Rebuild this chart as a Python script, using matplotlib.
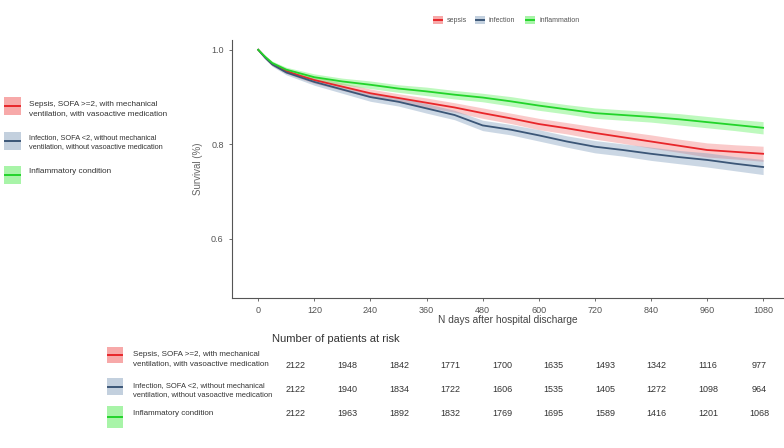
import matplotlib
matplotlib.use("Agg")
import matplotlib.pyplot as plt
from matplotlib.patches import Rectangle
from matplotlib.lines import Line2D

plt.rcParams["font.family"] = ["Liberation Sans", "DejaVu Sans"]

# survival curves
days = [0, 15, 30, 60, 90, 120, 180, 240, 300, 360, 420, 480, 540, 600,
        660, 720, 780, 840, 900, 960, 1020, 1080]
sepsis = [1.0, 0.984, 0.970, 0.955, 0.945, 0.936, 0.922, 0.908, 0.898, 0.888,
          0.878, 0.866, 0.855, 0.843, 0.834, 0.824, 0.815, 0.806, 0.797,
          0.788, 0.784, 0.780]
infection = [1.0, 0.983, 0.969, 0.952, 0.942, 0.932, 0.916, 0.900, 0.890,
             0.876, 0.862, 0.840, 0.831, 0.819, 0.806, 0.795, 0.788, 0.780,
             0.773, 0.767, 0.759, 0.752]
inflammation = [1.0, 0.985, 0.972, 0.958, 0.950, 0.942, 0.933, 0.926, 0.918,
                0.912, 0.905, 0.899, 0.891, 0.882, 0.874, 0.866, 0.862,
                0.858, 0.853, 0.847, 0.841, 0.835]
# half width of the confidence band
ci_sepsis = [0, 0.003, 0.004, 0.005, 0.006, 0.007, 0.008, 0.009, 0.009, 0.010,
             0.010, 0.011, 0.011, 0.012, 0.012, 0.013, 0.013, 0.014, 0.014,
             0.015, 0.015, 0.016]
ci_infection = [0, 0.003, 0.004, 0.005, 0.006, 0.007, 0.008, 0.009, 0.009,
                0.010, 0.010, 0.011, 0.011, 0.012, 0.012, 0.013, 0.013, 0.014,
                0.014, 0.015, 0.015, 0.016]
ci_inflammation = [0, 0.003, 0.004, 0.005, 0.006, 0.007, 0.007, 0.008, 0.008,
                   0.009, 0.009, 0.009, 0.010, 0.010, 0.010, 0.011, 0.011,
                   0.011, 0.012, 0.012, 0.012, 0.013]

risk_sepsis = [2122, 1948, 1842, 1771, 1700, 1635, 1493, 1342, 1116, 977]
risk_infection = [2122, 1940, 1834, 1722, 1606, 1535, 1405, 1272, 1098, 964]
risk_inflammation = [2122, 1963, 1892, 1832, 1769, 1695, 1589, 1416, 1201, 1068]

short_names = ["sepsis", "infection", "inflammation"]
long_names = ["Sepsis, SOFA >=2, with mechanical\nventilation, with vasoactive medication",
              "Infection, SOFA <2, without mechanical\nventilation, without vasoactive medication",
              "Inflammatory condition"]

line_cols = ["#e8262a", "#3b5677", "#22d42a"]
band_cols = ["#f47c7c", "#7f9cbc", "#5ef05e"]
patch_cols = ["#f7a9a9", "#c3d0de", "#a8f4a8"]

fig = plt.figure(figsize=(7.84, 4.48), dpi=100)
ax = fig.add_axes([0.296, 0.335, 0.703, 0.576])

series = [(sepsis, ci_sepsis), (infection, ci_infection),
          (inflammation, ci_inflammation)]
for i, (s, ci) in enumerate(series):
    lo = [v - c for v, c in zip(s, ci)]
    hi = [v + c for v, c in zip(s, ci)]
    ax.fill_between(days, lo, hi, color=band_cols[i], alpha=0.4, lw=0)
for i, (s, ci) in enumerate(series):
    ax.plot(days, s, color=line_cols[i], lw=1.3)

ax.set_xlim(-56, 1123)
ax.set_ylim(0.475, 1.021)
ax.set_xticks(range(0, 1081, 120))
ax.set_yticks([0.6, 0.8, 1.0])
ax.set_yticklabels(["0.6", "0.8", "1.0"])
for side in ["top", "right"]:
    ax.spines[side].set_visible(False)
for side in ["left", "bottom"]:
    ax.spines[side].set_color("#555555")
    ax.spines[side].set_linewidth(0.8)
ax.tick_params(colors="#555555", labelsize=6.5, length=2.5, width=0.6)
ax.set_xlabel("N days after hospital discharge", fontsize=7.3,
              color="#444444", labelpad=0)
ax.set_ylabel("Survival (%)", fontsize=7, color="#666666", labelpad=6)


def key(x, y, w, h, i):
    fig.add_artist(Rectangle((x / 784, 1 - (y + h) / 448), w / 784, h / 448,
                             color=patch_cols[i], lw=0))
    fig.add_artist(Line2D([(x + 1) / 784, (x + w - 1) / 784],
                          [1 - (y + h / 2) / 448] * 2,
                          color=line_cols[i], lw=1.4))


# top legend
top_x = [433, 475, 525]
for i, name in enumerate(short_names):
    key(top_x[i], 16, 10, 8, i)
    fig.text((top_x[i] + 14) / 784, 1 - 20 / 448, name, fontsize=5,
             va="center", color="#555555")

# left legend
left_y = [97, 132, 166]
left_ty = [109, 142, 171]
for i, name in enumerate(long_names):
    key(4, left_y[i], 17, 18, i)
    fig.text(29 / 784, 1 - left_ty[i] / 448, name,
             fontsize=5.9 if i != 1 else 5.3, va="center", color="#333333",
             linespacing=1.4)

# at-risk table
fig.text(272 / 784, 1 - 339 / 448, "Number of patients at risk", fontsize=8,
         va="center", color="#333333")
patch_y = [347, 378, 406]
patch_h = [16, 17, 22]
text_y = [359, 390, 413]
row_y = [365, 389, 413]
risks = [risk_sepsis, risk_infection, risk_inflammation]
for i, name in enumerate(long_names):
    key(107, patch_y[i], 16, patch_h[i], i)
    fig.text(133 / 784, 1 - text_y[i] / 448, name,
             fontsize=5.8 if i != 1 else 5.4, va="center", color="#333333",
             linespacing=1.4)
    for j, n in enumerate(risks[i]):
        fig.text((296 + 51.5 * j) / 784, 1 - row_y[i] / 448, str(n),
                 fontsize=6.5, ha="center", va="center", color="#333333")

fig.savefig("out.png", dpi=100)
